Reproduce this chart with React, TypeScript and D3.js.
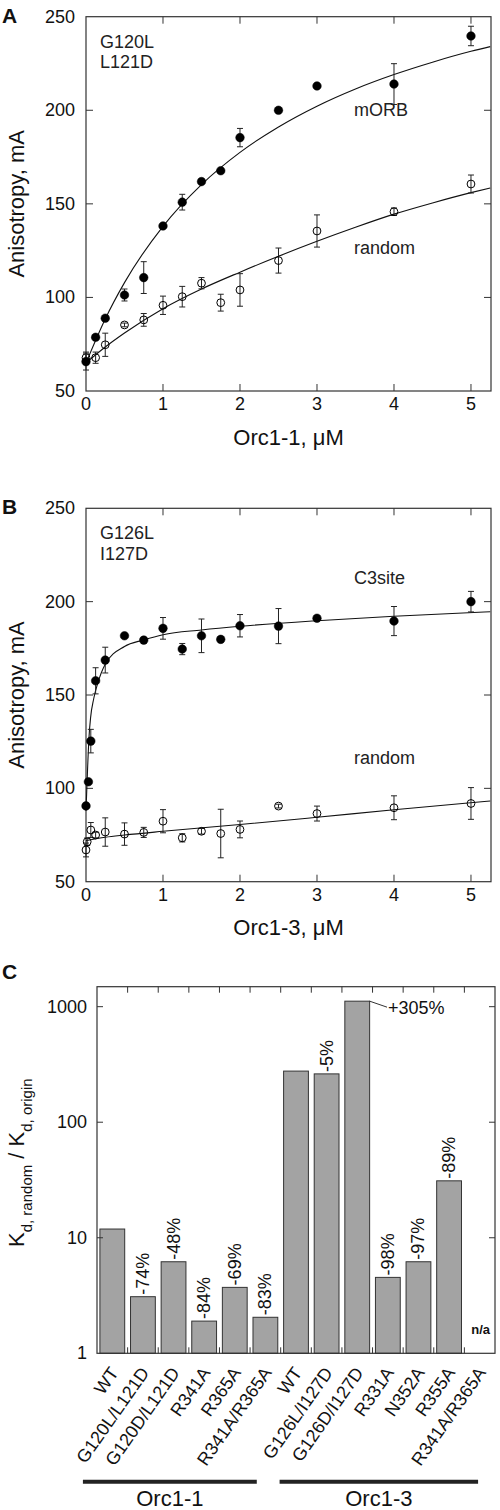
import React from "react";
import * as d3 from "d3";

// ---------- Panel A data (Orc1-1) ----------
const concA = [0, 0.125, 0.25, 0.5, 0.75, 1, 1.25, 1.5, 1.75, 2, 2.5, 3, 4, 5];
const morbA = [65.7, 78.7, 88.9, 101.3, 110.6, 138.2, 150.9, 161.9, 167.7, 185.4, 200, 213, 214, 239.7];
const morbErrA = [4.5, 0, 0, 3.2, 8.5, 0, 4.2, 0, 0, 4.9, 0, 1.2, 10.9, 5.2];
const randomA = [67.8, 67.8, 74.7, 85.3, 88, 95.8, 100.4, 107.6, 97.2, 104, 119.7, 135.5, 145.8, 160.6];
const randomErrA = [3, 3, 6.2, 1, 3.4, 4.9, 5.5, 3, 4.5, 8.7, 6.7, 8.6, 2, 4.8];
const fitXA = [0, 0.25, 0.5, 1, 1.5, 2, 2.5, 3, 3.5, 4, 4.5, 5, 5.25];
const fitMorbA = [65, 88.5, 107.9, 138, 160.3, 177.5, 191.1, 202.2, 211.4, 219.1, 225.7, 231.5, 234];
const fitRandomA = [65, 73.5, 81, 94, 104.5, 113.5, 122, 130, 137.5, 144.5, 150.5, 156, 158.5];

// ---------- Panel B data (Orc1-3) ----------
const concBc3 = [0, 0.03125, 0.0625, 0.125, 0.25, 0.5, 0.75, 1, 1.25, 1.5, 1.75, 2, 2.5, 3, 4, 5];
const c3B = [90.6, 103.5, 125.3, 157.6, 168.7, 181.7, 179.4, 185.7, 174.6, 181.7, 179.8, 187.1, 186.9, 191.1, 189.6, 200];
const c3ErrB = [0, 0, 6.3, 7, 6.9, 0, 1.5, 5.8, 3, 9, 0, 6, 9.4, 0, 7.8, 5.5];
const concBrand = [0, 0.015625, 0.0625, 0.125, 0.25, 0.5, 0.75, 1, 1.25, 1.5, 1.75, 2, 2.5, 3, 4, 5];
const randomB = [67, 71.4, 77.7, 75, 76.6, 75.5, 76.4, 82.4, 73.5, 77, 75.8, 78, 90.5, 86.5, 89.6, 91.9];
const randomErrB = [3.7, 2, 4, 1.5, 7.6, 6, 2.7, 6.2, 2.2, 1.5, 13, 4.5, 1, 4, 6.4, 8.5];
const fitXBc3 = [0, 0.02, 0.04, 0.06, 0.1, 0.15, 0.25, 0.5, 0.75, 1, 1.5, 2, 3, 4, 5.25];
const fitC3B = [88, 110, 128, 138, 148, 156, 166.5, 176, 179.5, 182.3, 184.8, 186.8, 189.8, 192.2, 194.6];
const fitXBrand = [0, 0.25, 0.5, 1, 2, 3, 4, 5.25];
const fitRandomB = [72, 73.8, 75, 77, 80.6, 84.5, 88.5, 93.2];

// ---------- Panel C data ----------
const mutants = ["WT", "G120L/L121D", "G120D/L121D", "R341A", "R365A", "R341A/R365A",
  "WT ", "G126L/I127D", "G126D/I127D", "R331A", "N352A", "R355A", "R341A/R365A "];
const ratios: (number | null)[] = [11.9, 3.09, 6.2, 1.9, 3.72, 2.05, 277, 262, 1116, 4.54, 6.2, 31.1, null];
const changes = ["", "-74%", "-48%", "-84%", "-69%", "-83%", "", "-5%", "+305%", "-98%", "-97%", "-89%", "n/a"];
const groups = ["Orc1-1", "Orc1-3"];
const groupStart = [0, 6];
const groupEnd = [5, 12];

const FONT = "'Liberation Sans', Arial, Helvetica, sans-serif";
const AX = "#333";

type Series = { x: number[]; y: number[]; err: number[]; filled: boolean };

function XYPanel(props: {
  top: number; bottom: number; letter: string; xTitle: string;
  mut: string[]; series: Series[]; fits: { x: number[]; y: number[] }[];
  labels: { text: string; v: number }[];
}) {
  const { top, bottom } = props;
  const left = 86, right = 491;
  const x = d3.scaleLinear().domain([0, 5.26]).range([left, right]);
  const y = d3.scaleLinear().domain([50, 250]).range([bottom, top]);
  const line = d3.line<[number, number]>().x(d => x(d[0])).y(d => y(d[1])).curve(d3.curveMonotoneX);
  const xt = [0, 1, 2, 3, 4, 5];
  const yt = [50, 100, 150, 200, 250];
  const tl = 7;
  return (
    <g fontFamily={FONT}>
      <text x={2} y={top + 6} fontSize={21} fontWeight="bold" fill="#111">{props.letter}</text>
      <rect x={left} y={top} width={right - left} height={bottom - top} fill="none" stroke={AX} strokeWidth={1.2} />
      {xt.filter(t => t > 0).map(t => (
        <g key={"xt" + t}>
          <line x1={x(t)} x2={x(t)} y1={bottom} y2={bottom - tl} stroke={AX} />
          <line x1={x(t)} x2={x(t)} y1={top} y2={top + tl} stroke={AX} />
        </g>
      ))}
      {yt.filter(t => t > 50 && t < 250).map(t => (
        <g key={"yt" + t}>
          <line x1={left} x2={left + tl} y1={y(t)} y2={y(t)} stroke={AX} />
          <line x1={right} x2={right - tl} y1={y(t)} y2={y(t)} stroke={AX} />
        </g>
      ))}
      {xt.map(t => (
        <text key={"xl" + t} x={x(t)} y={bottom + 13} fontSize={18} textAnchor="middle" dominantBaseline="central" fill="#111">{t}</text>
      ))}
      {yt.map(t => (
        <text key={"yl" + t} x={75} y={y(t)} fontSize={18} textAnchor="end" dominantBaseline="central" fill="#111">{t}</text>
      ))}
      <text x={(left + right) / 2} y={bottom + 46} fontSize={22} textAnchor="middle" dominantBaseline="central" fill="#111">{props.xTitle}</text>
      <text transform={`translate(16,${(top + bottom) / 2}) rotate(-90)`} fontSize={22} textAnchor="middle" dominantBaseline="central" fill="#111">Anisotropy, mA</text>
      {props.mut.map((m, i) => (
        <text key={m} x={100} y={top + 25 + i * 20.5} fontSize={18} dominantBaseline="central" fill="#222">{m}</text>
      ))}
      {props.labels.map(l => (
        <text key={l.text} x={354} y={y(l.v)} fontSize={18} dominantBaseline="central" fill="#222">{l.text}</text>
      ))}
      {props.fits.map((f, i) => (
        <path key={"f" + i} d={line(f.x.map((v, j) => [v, f.y[j]] as [number, number])) || ""} fill="none" stroke="#111" strokeWidth={1.1} />
      ))}
      {props.series.map((s, si) => (
        <g key={"s" + si}>
          {s.x.map((xv, i) => {
            const e = s.err[i];
            const cx = x(xv), cy = y(s.y[i]);
            return (
              <g key={i}>
                {e > 0 && (
                  <g stroke="#222" strokeWidth={1}>
                    <line x1={cx} x2={cx} y1={y(s.y[i] - e)} y2={y(s.y[i] + e)} />
                    <line x1={cx - 3} x2={cx + 3} y1={y(s.y[i] - e)} y2={y(s.y[i] - e)} />
                    <line x1={cx - 3} x2={cx + 3} y1={y(s.y[i] + e)} y2={y(s.y[i] + e)} />
                  </g>
                )}
                <circle cx={cx} cy={cy} r={s.filled ? 4.3 : 3.9} fill={s.filled ? "#000" : "none"} stroke="#000" strokeWidth={s.filled ? 0.5 : 1} />
              </g>
            );
          })}
        </g>
      ))}
    </g>
  );
}

function BarPanel() {
  const left = 97, right = 495, top = 986.7, bottom = 1353.3;
  const x = d3.scaleBand<string>().domain(mutants).range([left, right]).paddingInner(0.19).paddingOuter(0.095);
  const y = d3.scaleLog().domain([1, 1489]).range([bottom, top]);
  const step = x.step();
  const bw = x.bandwidth();
  const tl = 6;
  const yt = [1, 10, 100, 1000];
  // group underline extents relative to first/last band edges
  const grpPadL = [17, 4];
  const grpPadR = [21, 14];
  return (
    <g fontFamily={FONT}>
      <text x={2} y={979} fontSize={21} fontWeight="bold" fill="#111">C</text>
      {mutants.map((m, i) => {
        const v = ratios[i];
        if (v == null) return null;
        const bx = x(m)!;
        return <rect key={"b" + i} x={bx} y={y(v)} width={bw} height={bottom - y(v)} fill="#a3a3a3" stroke="#333" strokeWidth={1} />;
      })}
      <rect x={left} y={top} width={right - left} height={bottom - top} fill="none" stroke={AX} strokeWidth={1.2} />
      {mutants.slice(1).map((m, i) => {
        const bx = x(m)! - (step - bw) / 2;
        return (
          <g key={"t" + i}>
            <line x1={bx} x2={bx} y1={bottom} y2={bottom - tl} stroke={AX} />
            <line x1={bx} x2={bx} y1={top} y2={top + tl} stroke={AX} />
          </g>
        );
      })}
      {yt.map(t => (
        <g key={"yt" + t}>
          {t > 1 && <line x1={left} x2={left + tl} y1={y(t)} y2={y(t)} stroke={AX} />}
          {t > 1 && <line x1={right} x2={right - tl} y1={y(t)} y2={y(t)} stroke={AX} />}
          <text x={87} y={y(t)} fontSize={18} textAnchor="end" dominantBaseline="central" fill="#111">{t}</text>
        </g>
      ))}
      {mutants.map((m, i) => {
        const v = ratios[i];
        const c = changes[i];
        const cx = x(m)! + bw / 2;
        if (v == null) {
          return <text key={"c" + i} x={490} y={1329} fontSize={13} fontWeight="bold" textAnchor="end" dominantBaseline="central" fill="#111">{c}</text>;
        }
        if (c.startsWith("+")) {
          return (
            <g key={"c" + i}>
              <line x1={x(m)! + bw} y1={y(v)} x2={387} y2={y(v) + 6} stroke="#333" strokeWidth={1} />
              <text x={388} y={y(v) + 7} fontSize={18} dominantBaseline="central" fill="#111">{c}</text>
            </g>
          );
        }
        if (!c) return null;
        return (
          <text key={"c" + i} transform={`translate(${cx},${y(v) - 2}) rotate(-90)`} fontSize={18} dominantBaseline="central" fill="#111">{c}</text>
        );
      })}
      {mutants.map((m, i) => (
        <text key={"l" + i} transform={`translate(${x(m)! + bw / 2 + 2},${bottom + 16}) rotate(-55)`} fontSize={18} textAnchor="end" dominantBaseline="central" fill="#111">{m.trim()}</text>
      ))}
      {groups.map((g, gi) => {
        const x1 = x(mutants[groupStart[gi]])! - grpPadL[gi];
        const x2 = x(mutants[groupEnd[gi]])! + bw - grpPadR[gi];
        return (
          <g key={g}>
            <line x1={x1} x2={x2} y1={1481.7} y2={1481.7} stroke="#222" strokeWidth={4} />
            <text x={(x1 + x2) / 2} y={1498} fontSize={22} textAnchor="middle" dominantBaseline="central" fill="#111">{g}</text>
          </g>
        );
      })}
      <text transform="translate(24,1247) rotate(-90)" fontSize={22} fill="#111">
        <tspan>K</tspan>
        <tspan fontSize={15} dy={8}>d, random</tspan>
        <tspan dy={-8}>{"  / K"}</tspan>
        <tspan fontSize={15} dy={8}>d, origin</tspan>
      </text>
    </g>
  );
}

export default function App() {
  return (
    <svg width={500} height={1510} style={{ position: "absolute", left: 0, top: 0, background: "#fff" }}>
      <rect width={500} height={1510} fill="#fff" />
      <XYPanel
        top={16.7} bottom={391} letter="A" xTitle="Orc1-1, μM" mut={["G120L", "L121D"]}
        series={[
          { x: concA, y: randomA, err: randomErrA, filled: false },
          { x: concA, y: morbA, err: morbErrA, filled: true },
        ]}
        fits={[{ x: fitXA, y: fitMorbA }, { x: fitXA, y: fitRandomA }]}
        labels={[{ text: "mORB", v: 200 }, { text: "random", v: 126.5 }]}
      />
      <XYPanel
        top={508.3} bottom={881.7} letter="B" xTitle="Orc1-3, μM" mut={["G126L", "I127D"]}
        series={[
          { x: concBrand, y: randomB, err: randomErrB, filled: false },
          { x: concBc3, y: c3B, err: c3ErrB, filled: true },
        ]}
        fits={[{ x: fitXBc3, y: fitC3B }, { x: fitXBrand, y: fitRandomB }]}
        labels={[{ text: "C3site", v: 212.5 }, { text: "random", v: 116 }]}
      />
      <BarPanel />
    </svg>
  );
}
